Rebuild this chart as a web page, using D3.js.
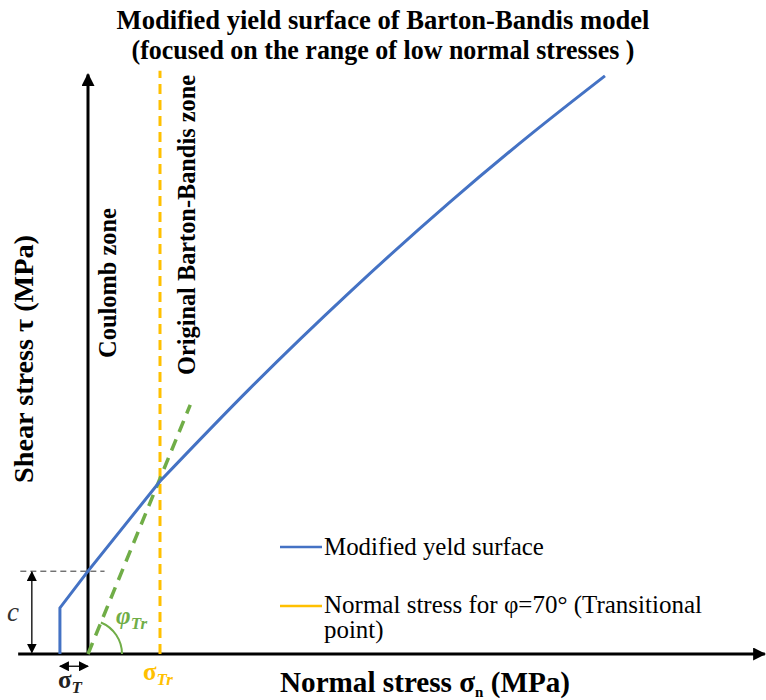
<!DOCTYPE html>
<html>
<head>
<meta charset="utf-8">
<script src="https://cdn.jsdelivr.net/npm/d3@7"></script>
<style>
  body { margin: 0; background: #fff; }
</style>
</head>
<body>
<script>
// yield surface (units: sigma_Tr = 1)
const blueSigmaLin = [-0.39, -0.39, 0, 1];
const blueTauLin   = [0, 0.64, 1.15, 2.4];
const blueSigmaCurve = [1, 2.25, 3.64, 5.03, 6.14, 7.18];
const blueTauCurve   = [2.4, 3.69, 5.03, 6.28, 7.21, 8.03];

// Coulomb line (green dashed)
const greenSigma = [0, 1.42];
const greenTau   = [0, 3.46];

const sigmaTr = 1;
const sigmaT = -0.39;
const cohesion = 1.15;

const titleLines = ["Modified yield surface of Barton-Bandis model",
                    "(focused on the range of low normal stresses )"];
const legendLabels = ["Modified yeld surface", "Normal stress for φ=70° (Transitional", "point)"];

const W = 766, H = 700;
const blue = "#4472C4", orange = "#FFC000", green = "#70AD47";

const svg = d3.select("body").append("svg")
    .attr("width", W).attr("height", H)
    .attr("font-family", "Liberation Serif");

const x = d3.scaleLinear().domain([0, 1]).range([88, 160]);
const y = d3.scaleLinear().domain([0, 1]).range([654, 582]);

// scale font size so the text gets a given width
function fit(sel, target) {
  const w = sel.node().getComputedTextLength();
  sel.attr("font-size", +sel.attr("font-size") * target / w);
  return sel;
}

// arrow markers
const defs = svg.append("defs");
function marker(id, w, h, color) {
  defs.append("marker")
      .attr("id", id)
      .attr("viewBox", "0 0 10 10")
      .attr("refX", 9).attr("refY", 5)
      .attr("markerUnits", "userSpaceOnUse")
      .attr("markerWidth", w).attr("markerHeight", h)
      .attr("orient", "auto-start-reverse")
    .append("path")
      .attr("d", "M0,0 L10,5 L0,10 Z")
      .attr("fill", color);
}
marker("axArrow", 15, 13, "#000");
marker("smallArrow", 10, 10, "#000");

const line = d3.line().x(d => x(d[0])).y(d => y(d[1]));

// axes
svg.append("path")
    .attr("d", line([[-0.97, 0], [9.4, 0]]))
    .attr("stroke", "#000").attr("stroke-width", 3)
    .attr("marker-end", "url(#axArrow)");
svg.append("path")
    .attr("d", line([[0, 0], [0, 8.05]]))
    .attr("stroke", "#000").attr("stroke-width", 3)
    .attr("marker-end", "url(#axArrow)");

// cohesion dashed guide
svg.append("path")
    .attr("d", line([[-0.94, cohesion], [0.23, cohesion]]))
    .attr("stroke", "#333").attr("stroke-width", 1)
    .attr("stroke-dasharray", "6,4");

// c arrow
svg.append("path")
    .attr("d", line([[-0.78, 0.02], [-0.78, cohesion - 0.01]]))
    .attr("stroke", "#000").attr("stroke-width", 1.3)
    .attr("marker-start", "url(#smallArrow)")
    .attr("marker-end", "url(#smallArrow)");

// sigma_T arrow
svg.append("path")
    .attr("d", line([[sigmaT, -0.17], [0, -0.17]]))
    .attr("stroke", "#000").attr("stroke-width", 1.3)
    .attr("marker-start", "url(#smallArrow)")
    .attr("marker-end", "url(#smallArrow)");

// transitional normal stress
svg.append("path")
    .attr("d", line([[sigmaTr, 0], [sigmaTr, 8.1]]))
    .attr("stroke", orange).attr("stroke-width", 3)
    .attr("stroke-dasharray", "10,6");

// green Coulomb line
svg.append("path")
    .attr("d", line(d3.zip(greenSigma, greenTau)))
    .attr("stroke", green).attr("stroke-width", 3.5)
    .attr("stroke-dasharray", "12,8");

// angle arc
const ang = Math.atan2(y(0) - y(greenTau[1]), x(greenSigma[1]) - x(0));
const r = 34;
svg.append("path")
    .attr("d", `M${x(0) + r},${y(0)} A${r},${r} 0 0 0 ${x(0) + r * Math.cos(ang)},${y(0) - r * Math.sin(ang)}`)
    .attr("fill", "none").attr("stroke", green).attr("stroke-width", 2);

// yield surface
svg.append("path")
    .attr("d", line(d3.zip(blueSigmaLin, blueTauLin)))
    .attr("fill", "none").attr("stroke", blue).attr("stroke-width", 3);
svg.append("path")
    .attr("d", line.curve(d3.curveMonotoneX)(d3.zip(blueSigmaCurve, blueTauCurve)))
    .attr("fill", "none").attr("stroke", blue).attr("stroke-width", 3);

// title
const t1 = svg.append("text")
    .attr("x", 383).attr("y", 29)
    .attr("text-anchor", "middle")
    .attr("font-size", 24).attr("font-weight", "bold")
    .text(titleLines[0]);
fit(t1, 533);
svg.append("text")
    .attr("x", 383).attr("y", 59)
    .attr("text-anchor", "middle")
    .attr("font-size", t1.attr("font-size")).attr("font-weight", "bold")
    .attr("textLength", 503).attr("lengthAdjust", "spacingAndGlyphs")
    .text(titleLines[1]);

// axis titles
const xt = svg.append("text")
    .attr("x", 280).attr("y", 692)
    .attr("font-size", 24).attr("font-weight", "bold");
xt.append("tspan").text("Normal stress σ");
xt.append("tspan").attr("font-size", 15).attr("dy", 5).text("n");
xt.append("tspan").attr("dy", -5).text(" (MPa)");
fit(xt, 292);

fit(svg.append("text")
    .attr("transform", "translate(33,359) rotate(-90)")
    .attr("text-anchor", "middle")
    .attr("font-size", 24).attr("font-weight", "bold")
    .text("Shear stress τ (MPa)"), 248);

fit(svg.append("text")
    .attr("transform", "translate(116,283) rotate(-90)")
    .attr("text-anchor", "middle")
    .attr("font-size", 22).attr("font-weight", "bold")
    .text("Coulomb zone"), 150);

fit(svg.append("text")
    .attr("transform", "translate(195,225) rotate(-90)")
    .attr("text-anchor", "middle")
    .attr("font-size", 22).attr("font-weight", "bold")
    .text("Original Barton-Bandis zone"), 300);

// annotation symbols
svg.append("text")
    .attr("x", 7).attr("y", 621)
    .attr("font-size", 27).attr("font-style", "italic").attr("fill", "#333")
    .text("c");

const st = svg.append("text")
    .attr("x", 58).attr("y", 688)
    .attr("font-size", 25).attr("font-weight", "bold").attr("fill", "#222");
st.append("tspan").text("σ");
st.append("tspan").attr("font-size", 17).attr("font-style", "italic").attr("dy", 5).text("T");

const str = svg.append("text")
    .attr("x", 143).attr("y", 680)
    .attr("font-size", 25).attr("font-weight", "bold").attr("fill", orange);
str.append("tspan").text("σ");
str.append("tspan").attr("font-size", 17).attr("font-style", "italic").attr("dy", 5).text("Tr");

const ph = svg.append("text")
    .attr("x", 116).attr("y", 624)
    .attr("font-size", 25).attr("font-weight", "bold").attr("font-style", "italic").attr("fill", green);
ph.append("tspan").text("φ");
ph.append("tspan").attr("font-size", 17).attr("dy", 5).text("Tr");

// legend
const legY = [547, 606];
const legColors = [blue, orange];
legY.forEach((ly, i) => {
  svg.append("line")
      .attr("x1", 280).attr("x2", 322).attr("y1", ly).attr("y2", ly)
      .attr("stroke", legColors[i]).attr("stroke-width", 2.5);
});
const l1 = fit(svg.append("text").attr("x", 324).attr("y", 555)
    .attr("font-size", 24)
    .text(legendLabels[0]), 220);
const legFs = l1.attr("font-size");
svg.append("text").attr("x", 324).attr("y", 613)
    .attr("font-size", legFs)
    .attr("textLength", 378).attr("lengthAdjust", "spacingAndGlyphs")
    .text(legendLabels[1]);
svg.append("text").attr("x", 324).attr("y", 638)
    .attr("font-size", legFs)
    .text(legendLabels[2]);
</script>
</body>
</html>
